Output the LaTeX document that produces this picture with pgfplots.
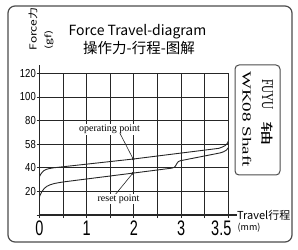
\documentclass[border=0pt]{standalone}
\usepackage{fontspec}
\setmainfont{Liberation Sans}
\newfontfamily\cjk{Noto Sans CJK SC}
\newfontfamily\serif{Liberation Serif}
\usepackage{graphicx}
\usepackage{pgfplots}
\pgfplotsset{compat=1.18}
\definecolor{ln}{gray}{0.15}
\definecolor{fr}{gray}{0.3}
\newcommand{\fs}[1]{\fontsize{#1bp}{#1bp}\selectfont}
\newcommand{\xl}[1]{\scalebox{1}[1.45]{#1}}
\newcommand{\yl}[1]{\scalebox{1}[1.22]{#1}}
\begin{document}
\begin{tikzpicture}
\path[use as bounding box] (0,0) rectangle (298bp,250bp);
\draw[fr, line width=1.2bp, rounded corners=7bp] (8bp,8bp) rectangle (292bp,244bp);
\begin{axis}[
  at={(39.5bp,35bp)}, anchor=origin,
  x=23.6bp, y=1.18bp,
  xmin=0, xmax=8, ymin=0, ymax=120,
  axis lines=left,
  axis line style={-, ln, line width=1.1bp},
  x axis line style={-}, y axis line style={-},
  xtick={0,...,8},
  xticklabels={\xl{0},,\xl{1},,\xl{2},,\xl{3},,\hspace*{-14bp}\xl{3.5}},
  ytick={0,20,...,120},
  yticklabels={,\yl{20},\yl{40},\yl{58},\yl{80},\yl{100},\yl{120}},
  tick align=outside,
  major tick length=3bp,
  tick style={ln, line width=0.8bp},
  grid=major,
  grid style={ln, line width=0.8bp},
  clip=false,
  /pgf/number format/assume math mode=true,
  xticklabel style={font=\fs{14.5}, inner sep=0pt, yshift=-3bp},
  yticklabel style={font=\fs{9.5}, inner sep=0pt, xshift=-0.5bp},
]
\addplot[ln, line width=0.9bp] coordinates {
 (0,32.5) (0.04,34.2) (0.1,35.8) (0.18,37.5) (0.28,38.6) (0.4,39.3) (0.6,40) (1,40.9)
 (4,47.5) (7.6,56.5) (7.75,57.6) (7.88,59) (7.96,60.6) (8,62.5)};
\addplot[ln, line width=0.9bp] coordinates {
 (0,15.5) (0.04,17.5) (0.1,19.8) (0.2,22.5) (0.32,24.4) (0.45,25.6) (0.65,26.8) (1,28)
 (4,35.6) (5.6,39.7) (5.7,40.3) (5.76,41.5) (5.82,43.6) (5.88,45.2) (5.97,46)
 (7.65,52.6) (7.8,53.6) (7.92,55) (8,57)};
\node[fill=white, inner sep=1bp, font=\serif\fs{10}] at (axis cs:2.97,72.6) {operating point};
\draw[ln, line width=0.6bp] (axis cs:3.41,69.2) -- (axis cs:3.97,47.4);
\node[fill=white, inner sep=1bp, font=\serif\fs{10}] at (axis cs:3.35,13.6) {reset point};
\draw[ln, line width=0.6bp] (axis cs:3.23,17.8) -- (axis cs:3.95,35.3);
\addplot[only marks, mark=*, mark size=1.1bp, ln] coordinates {(3.97,47.4) (3.95,35.3)};
\draw[ln, line width=1.1bp] (axis cs:8,0) -- (axis cs:8.37,0);
\draw[ln, line width=1.1bp] (axis cs:0,120) -- (axis cs:0,127);
\end{axis}
\node[font=\cjk\fs{14}] at (137.5bp,218bp) {Force Travel-diagram};
\node[font=\cjk\fs{14.5}] at (139bp,202bp) {操作力-行程-图解};
\node[rotate=90, inner sep=0] at (33bp,221bp) {\scalebox{1}[0.8]{\cjk\fs{12}Force力}};
\node[rotate=90, inner sep=0] at (49bp,210bp) {\scalebox{1}[0.7]{\cjk\fs{12}(gf)}};
\node[font=\cjk\fs{11}, anchor=west, inner sep=0] at (237bp,35bp) {Travel行程};
\node[font=\cjk\fs{9}, inner sep=0] at (249bp,22bp) {(mm)};
\draw[fr, line width=1bp, rounded corners=4bp] (235bp,185bp) rectangle (280bp,75bp);
\node[rotate=-90, inner sep=0, anchor=west] at (267bp,171bp) {\scalebox{0.75}[1.1]{\serif\fs{15}FUYU}\hspace{12bp}\scalebox{1}[0.52]{\cjk\fs{24}轴}};
\node[rotate=-90, inner sep=0] at (247bp,131bp) {\scalebox{1}[0.65]{\serif\fs{19}WK08 Shaft}};
\end{tikzpicture}
\end{document}
